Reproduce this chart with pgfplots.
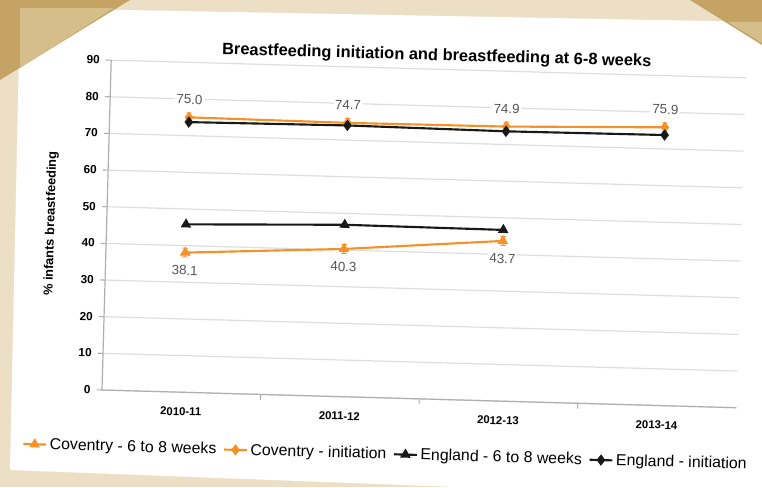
\documentclass[border=0pt]{standalone}
\usepackage{pgfplots}
\pgfplotsset{compat=1.18}
\usepackage{fontspec}
\setmainfont{Liberation Sans}

\definecolor{covorange}{RGB}{245,145,40}
\definecolor{engblack}{RGB}{25,25,25}
\definecolor{gridgray}{RGB}{222,222,222}
\definecolor{axisgray}{RGB}{175,175,175}
\definecolor{labelgray}{RGB}{85,85,85}
\definecolor{wood}{RGB}{236,223,198}
\definecolor{gold}{RGB}{196,163,100}
\definecolor{goldlight}{RGB}{214,190,138}

% Breastfeeding rates (% of infants), by financial year 0..3
\pgfplotstableread{
x y
0 38.1
1 40.3
2 43.7
}\covweeks
\pgfplotstableread{
x y
0 75.0
1 74.7
2 74.9
3 75.9
}\covinit
\pgfplotstableread{
x y
0 45.8
1 46.9
2 46.7
}\engweeks
\pgfplotstableread{
x y
0 73.7
1 74.0
2 73.6
3 73.8
}\enginit

\begin{document}
\begin{tikzpicture}
\useasboundingbox (0,0) rectangle (571.5pt,365.25pt);
\clip (0,0) rectangle (571.5pt,365.25pt);

% backdrop and sheet (pixel-like units, y downwards)
\begin{scope}[x=0.75pt,y=-0.75pt,shift={(0pt,365.25pt)}]
  \fill[wood] (0,0) rectangle (762,487);
  \fill[white] (20,8) -- (762,22) -- (762,487) -- (455,487) -- (10,470) -- cycle;
  \fill[gold] (0,0) -- (130,0) -- (0,80) -- cycle;
  \fill[goldlight] (20,8) -- (114,8) -- (20,68) -- cycle;
  \fill[gold] (690,0) -- (762,0) -- (762,45) -- cycle;
  \fill[goldlight] (728,22) -- (762,22) -- (762,43) -- cycle;
\end{scope}

\begin{scope}[rotate around={-1.6:(76.5pt,72.75pt)}]
\begin{axis}[
  at={(76.5pt,72.75pt)}, anchor=south west,
  scale only axis, width=476pt, height=247.5pt,
  xmin=-0.5, xmax=3.5, ymin=0, ymax=90,
  xtick={0,1,2,3},
  xticklabels={2010-11,2011-12,2012-13,2013-14},
  minor xtick={0.5,1.5,2.5},
  ytick={0,10,...,90},
  axis x line*=bottom, axis y line*=left,
  axis line style={axisgray, line width=0.9pt, -},
  ymajorgrids, grid style={gridgray, line width=0.9pt},
  tick align=outside,
  major tick length=4pt, minor tick length=4pt,
  every tick/.style={axisgray, line width=0.8pt},
  major x tick style={draw=none},
  /pgf/number format/assume math mode=true,
  yticklabel style={font=\bfseries\fontsize{8.8}{10}\selectfont, xshift=-1pt},
  xticklabel style={font=\bfseries\fontsize{8.5}{10}\selectfont, yshift=-4pt},
  ylabel={\% infants breastfeeding},
  ylabel style={font=\bfseries\fontsize{9.6}{11}\selectfont, yshift=12pt},
  title={Breastfeeding initiation and breastfeeding at 6-8 weeks},
  title style={font=\bfseries\fontsize{12.3}{14}\selectfont, yshift=-5.5pt, xshift=6pt},
  legend columns=-1,
  legend style={at={(-0.13,-0.17)}, anchor=west, draw=none, fill=none,
    font=\fontsize{11.9}{14}\selectfont,
    /tikz/every even column/.append style={column sep=3pt}},
  legend cell align=left,
  every node near coord/.append style={font=\fontsize{10}{12}\selectfont,
    text=labelgray, fill=white, inner sep=1pt},
  error bars/y dir=both, error bars/y fixed=1.2,
  error bars/error bar style={line width=0.7pt},
  error bars/error mark options={rotate=90, mark size=2pt, line width=0.7pt},
]
% Coventry, breastfeeding at 6-8 weeks
\addplot[covorange, line width=1.6pt, mark=triangle*, mark size=3pt,
  mark options={solid},
  nodes near coords, /pgf/number format/.cd, fixed, fixed zerofill, precision=1,
  /pgfplots/.cd,
  every node near coord/.append style={anchor=north, yshift=-8pt},
  error bars/.cd, y dir=both, y fixed=1.2]
  table {\covweeks};
\addlegendentry{Coventry - 6 to 8 weeks}
% Coventry, initiation
\addplot[covorange, line width=1.6pt, mark=diamond*, mark size=3pt,
  nodes near coords, /pgf/number format/.cd, fixed, fixed zerofill, precision=1,
  /pgfplots/.cd,
  every node near coord/.append style={anchor=south, yshift=8pt},
  error bars/.cd, y dir=both, y fixed=1.2]
  table {\covinit};
\addlegendentry{Coventry - initiation}
% England, breastfeeding at 6-8 weeks
\addplot[engblack, line width=1.6pt, mark=triangle*, mark size=3pt,
  error bars/.cd, y dir=none]
  table {\engweeks};
\addlegendentry{England - 6 to 8 weeks}
% England, initiation
\addplot[engblack, line width=1.6pt, mark=diamond*, mark size=3pt,
  error bars/.cd, y dir=none]
  table {\enginit};
\addlegendentry{England - initiation}
\end{axis}
\end{scope}
\end{tikzpicture}
\end{document}
